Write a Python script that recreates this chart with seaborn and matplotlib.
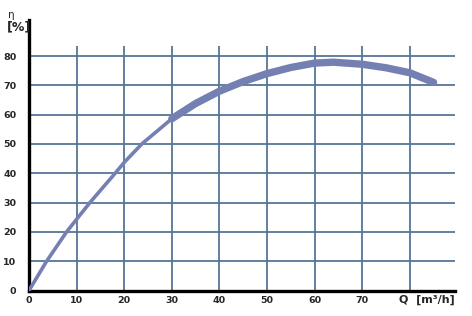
import matplotlib
matplotlib.use("Agg")
import matplotlib.pyplot as plt
import seaborn as sns
import pandas as pd

q_values = [0, 3.7, 7.9, 10, 12.8, 18.1, 20, 23.7, 30, 35, 40, 45, 50, 55, 60, 64, 70, 75, 80, 85]
eta_values = [0, 10, 20, 24.3, 30, 40, 43.7, 50, 58.6, 63.8, 68, 71.3, 74, 76.1, 77.6, 77.9, 77.2, 76.0, 74.3, 71]
grid_x = [10, 20, 30, 40, 50, 60, 70, 80]
grid_y = [10, 20, 30, 40, 50, 60, 70, 80]
x_ticks = [0, 10, 20, 30, 40, 50, 60, 70]
y_ticks = [0, 10, 20, 30, 40, 50, 60, 70, 80]
x_label = "Q  [m³/h]"
y_label_symbol = "η"
y_label_unit = "[%]"

sns.set_style("white")
plt.rcParams['font.family'] = ['DejaVu Sans']

df = pd.DataFrame({"Q": q_values, "eta": eta_values})
thin = df[df.Q <= 30]
thick = df[df.Q >= 30]

fig = plt.figure(figsize=(4.72, 3.16), dpi=100)
ax = fig.add_axes([29/472, 1 - 290.5/316, (455-29)/472, (290.5-20)/316])

y_top = 92.3
grid_top = 83.4
x_max = 89.5
grid_color = "#557597"
curve_color = "#7480b2"

ax.set_xlim(0, x_max)
ax.set_ylim(0, y_top)

for yv in grid_y:
    ax.plot([0, x_max], [yv, yv], color=grid_color, lw=1.3, zorder=1, solid_capstyle='butt')
for xv in grid_x:
    ax.plot([xv, xv], [0, grid_top], color=grid_color, lw=1.3, zorder=1, solid_capstyle='butt')

sns.lineplot(data=thin, x="Q", y="eta", ax=ax, color=curve_color, lw=2.6, zorder=3,
             sort=False, estimator=None)
sns.lineplot(data=thick, x="Q", y="eta", ax=ax, color=curve_color, lw=5.3, zorder=3,
             sort=False, estimator=None, solid_capstyle='round')

for s in ["top", "right"]:
    ax.spines[s].set_visible(False)
ax.spines["left"].set_linewidth(2.4)
ax.spines["bottom"].set_linewidth(2.4)
ax.spines["left"].set_color("black")
ax.spines["bottom"].set_color("black")

ax.set_xticks(x_ticks)
ax.set_yticks(y_ticks)
ax.set_xticklabels([str(v) for v in x_ticks], fontsize=6.8, fontweight='bold')
ax.set_yticklabels([str(v) for v in y_ticks], fontsize=6.8, fontweight='bold')
ax.tick_params(axis='both', length=0)
ax.tick_params(axis='y', pad=9)
ax.tick_params(axis='x', pad=4)
ax.set_xlabel("")
ax.set_ylabel("")

fig.text(455/472, 1 - 300/316, x_label, ha='right', va='center', fontsize=8, fontweight='bold')
fig.text(8/472, 1 - 15/316, y_label_symbol, ha='left', va='center', fontsize=7.5)
fig.text(7/472, 1 - 27/316, y_label_unit, ha='left', va='center', fontsize=9, fontweight='bold')

fig.savefig("out.png", dpi=100, facecolor="white")
